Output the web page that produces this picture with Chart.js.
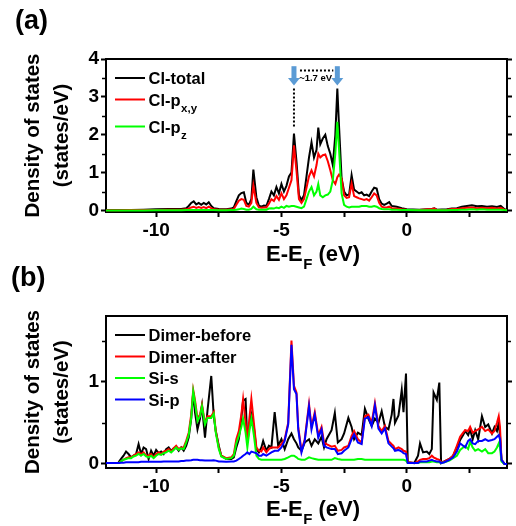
<!DOCTYPE html>
<html><head><meta charset="utf-8">
<script src="https://cdn.jsdelivr.net/npm/chart.js@4.4.1/dist/chart.umd.min.js"></script>
<style>
html,body{margin:0;padding:0;background:#fff;}
#wrap{position:relative;width:516px;height:526px;overflow:hidden;}
canvas{position:absolute;left:0;}
#chartA{top:0;}
#chartB{top:263px;}
</style></head><body>
<div id="wrap">
<canvas id="chartA" width="516" height="280"></canvas>
<canvas id="chartB" width="516" height="263"></canvas>
</div>
<script>
// ---------- data: panel (a) ----------
const energyA = [-12,-11.5,-11,-10.5,-10,-9.5,-9,-8.8,-8.7,-8.6,-8.5,-8.4,-8.3,-8.2,-8.1,-8,-7.9,-7.8,-7.7,-7.5,-7.2,-7,-6.9,-6.8,-6.7,-6.6,-6.5,-6.4,-6.3,-6.2,-6.12,-6,-5.9,-5.8,-5.7,-5.6,-5.5,-5.4,-5.3,-5.2,-5.1,-5,-4.9,-4.8,-4.7,-4.6,-4.5,-4.4,-4.3,-4.2,-4.1,-4,-3.9,-3.8,-3.7,-3.6,-3.53,-3.45,-3.35,-3.25,-3.15,-3.05,-2.95,-2.85,-2.77,-2.7,-2.6,-2.5,-2.4,-2.3,-2.2,-2.1,-2,-1.9,-1.8,-1.7,-1.6,-1.5,-1.4,-1.3,-1.2,-1.1,-1,-0.9,-0.8,-0.7,-0.6,-0.4,-0.2,0,0.5,1,1.1,1.2,1.6,1.8,2,2.2,2.4,2.6,2.8,3,3.2,3.4,3.6,3.75,3.9,4];
const clTotal = [0.01,0.01,0.015,0.02,0.03,0.04,0.04,0.06,0.12,0.2,0.24,0.16,0.2,0.15,0.2,0.16,0.22,0.12,0.06,0.04,0.03,0.05,0.08,0.25,0.4,0.46,0.48,0.2,0.15,0.3,1.08,0.35,0.13,0.1,0.13,0.12,0.3,0.5,0.4,0.62,0.45,0.7,0.5,0.65,0.9,1.0,2.03,1.3,0.4,0.28,0.4,0.9,1.4,1.8,1.4,1.6,2.19,1.75,1.9,2.0,1.7,1.5,1.2,2.0,3.22,2.2,0.85,0.5,0.4,0.42,0.93,0.55,0.5,0.45,0.48,0.4,0.42,0.38,0.5,0.6,0.58,0.3,0.18,0.15,0.18,0.22,0.12,0.1,0.06,0.03,0.02,0.04,0.06,0.02,0.03,0.05,0.06,0.1,0.12,0.14,0.11,0.12,0.1,0.11,0.09,0.12,0.03,0.02];
const clPxy = [0.005,0.005,0.01,0.01,0.015,0.02,0.02,0.03,0.05,0.08,0.1,0.07,0.09,0.07,0.09,0.06,0.1,0.06,0.03,0.02,0.02,0.03,0.04,0.15,0.26,0.3,0.28,0.12,0.1,0.2,0.66,0.2,0.08,0.07,0.08,0.08,0.18,0.3,0.25,0.38,0.28,0.45,0.3,0.4,0.6,0.8,1.72,1.05,0.3,0.2,0.3,0.6,0.9,1.06,0.9,1.2,1.5,1.4,1.46,1.48,1.3,1.06,0.8,0.7,0.88,0.95,0.85,0.4,0.33,0.35,0.71,0.38,0.35,0.32,0.3,0.28,0.3,0.26,0.35,0.45,0.4,0.2,0.1,0.08,0.08,0.1,0.06,0.05,0.03,0.02,0.01,0.04,0.05,0.015,0.02,0.04,0.04,0.06,0.07,0.08,0.06,0.07,0.06,0.07,0.05,0.07,0.02,0.01];
const clPz = [0,0,0,0,0.005,0.005,0.005,0.01,0.01,0.01,0.01,0.01,0.01,0.01,0.01,0.01,0.01,0.01,0.01,0.005,0.005,0.01,0.01,0.02,0.03,0.05,0.04,0.02,0.02,0.04,0.1,0.03,0.02,0.02,0.02,0.02,0.05,0.06,0.05,0.08,0.06,0.1,0.07,0.12,0.1,0.12,0.12,0.1,0.08,0.06,0.1,0.3,0.5,0.62,0.4,0.5,0.7,0.4,0.35,0.4,0.42,0.5,0.8,1.5,2.34,1.6,0.45,0.15,0.1,0.08,0.1,0.1,0.1,0.1,0.12,0.12,0.12,0.1,0.1,0.12,0.1,0.06,0.04,0.03,0.03,0.03,0.02,0.02,0.01,0.01,0.005,0.005,0.005,0.005,0.005,0.01,0.01,0.02,0.02,0.03,0.02,0.03,0.02,0.02,0.02,0.02,0.01,0.005];

// ---------- data: panel (b) ----------
const energyB = [-12,-11.8,-11.6,-11.5,-11.4,-11.3,-11.2,-11.1,-11,-10.9,-10.8,-10.7,-10.6,-10.5,-10.4,-10.3,-10.2,-10.1,-10,-9.9,-9.8,-9.7,-9.6,-9.5,-9.4,-9.3,-9.2,-9.1,-9,-8.9,-8.8,-8.7,-8.6,-8.52,-8.45,-8.35,-8.25,-8.17,-8.05,-7.95,-7.8,-7.7,-7.62,-7.5,-7.4,-7.2,-7,-6.9,-6.8,-6.7,-6.6,-6.53,-6.43,-6.36,-6.28,-6.2,-6.1,-6,-5.9,-5.8,-5.73,-5.6,-5.5,-5.4,-5.27,-5.13,-5,-4.87,-4.73,-4.6,-4.5,-4.4,-4.33,-4.2,-4.07,-3.9,-3.8,-3.67,-3.53,-3.4,-3.3,-3.2,-3,-2.87,-2.75,-2.6,-2.5,-2.33,-2.2,-2.1,-1.95,-1.8,-1.67,-1.53,-1.4,-1.27,-1.13,-1,-0.87,-0.73,-0.6,-0.53,-0.47,-0.33,-0.2,-0.13,-0.03,0.04,0.3,0.45,0.53,0.65,0.8,0.9,1,1.07,1.2,1.3,1.37,1.5,1.7,1.85,2,2.13,2.25,2.33,2.45,2.53,2.63,2.73,2.85,3,3.13,3.25,3.4,3.5,3.6,3.67,3.72,3.78,3.9,4];
const dimerBefore = [null,null,null,0.02,0.06,0.1,0.15,0.12,0.08,0.1,0.12,0.24,0.12,0.2,0.18,0.06,0.16,0.1,0.17,0.13,0.15,0.12,0.18,0.2,0.16,0.19,0.2,0.16,0.2,0.16,0.22,0.32,0.55,0.87,0.63,0.42,0.55,0.71,0.32,0.65,1.07,0.58,0.4,0.22,0.1,0.06,0.06,0.08,0.2,0.3,0.55,0.77,0.79,0.26,0.45,0.6,0.45,0.18,0.14,0.2,0.28,0.16,0.22,0.2,0.63,0.22,0.3,0.18,0.3,0.37,0.3,0.25,0.2,0.16,0.26,0.3,0.22,0.3,0.25,0.33,0.2,0.3,0.41,0.62,0.26,0.3,0.37,0.56,0.45,0.3,0.38,0.35,0.67,0.55,0.46,0.55,0.5,0.64,0.45,0.42,0.6,0.79,0.5,0.59,0.9,0.63,1.1,0.02,0.01,0.1,0.25,0.14,0.15,0.12,0.18,0.87,0.78,0.99,0.01,0.03,0.06,0.1,0.2,0.29,0.35,0.4,0.35,0.42,0.3,0.41,0.3,0.58,0.45,0.48,0.37,0.45,0.4,0.5,0.35,0.05,0,0];
const dimerAfter = [null,null,null,0.01,0.03,0.05,0.07,0.08,0.08,0.1,0.12,0.14,0.12,0.14,0.1,0.1,0.12,0.08,0.12,0.14,0.12,0.15,0.16,0.18,0.15,0.19,0.22,0.18,0.2,0.2,0.28,0.38,0.6,0.9,0.78,0.55,0.6,0.72,0.5,0.58,0.58,0.63,0.4,0.2,0.1,0.07,0.08,0.12,0.3,0.4,0.6,0.79,0.5,0.28,0.55,0.79,0.5,0.2,0.16,0.15,0.2,0.14,0.18,0.2,0.2,0.2,0.24,0.3,0.5,1.5,0.95,0.87,0.45,0.16,0.3,0.73,0.45,0.63,0.35,0.45,0.26,0.24,0.21,0.22,0.16,0.17,0.2,0.22,0.34,0.4,0.3,0.26,0.58,0.6,0.5,0.74,0.46,0.4,0.46,0.28,0.24,0.22,0.18,0.2,0.18,0.16,0.15,0.02,0.01,0.03,0.05,0.06,0.06,0.07,0.1,0.08,0.06,0.05,0.02,0.03,0.06,0.1,0.22,0.33,0.38,0.41,0.4,0.45,0.38,0.4,0.42,0.45,0.4,0.42,0.37,0.4,0.5,0.58,0.45,0.05,0,0];
const siS = [null,null,null,0.01,0.03,0.05,0.06,0.07,0.07,0.09,0.1,0.12,0.1,0.12,0.09,0.08,0.1,0.07,0.1,0.12,0.11,0.13,0.14,0.16,0.14,0.17,0.2,0.17,0.19,0.18,0.26,0.35,0.56,0.88,0.75,0.52,0.58,0.7,0.48,0.56,0.56,0.61,0.38,0.18,0.09,0.06,0.07,0.1,0.25,0.34,0.45,0.55,0.38,0.2,0.4,0.55,0.35,0.1,0.06,0.05,0.05,0.05,0.05,0.05,0.05,0.05,0.05,0.06,0.08,0.1,0.1,0.08,0.06,0.05,0.05,0.08,0.07,0.06,0.05,0.05,0.05,0.05,0.05,0.07,0.06,0.05,0.05,0.05,0.05,0.05,0.06,0.06,0.05,0.05,0.05,0.05,0.05,0.05,0.05,0.05,0.05,0.05,0.05,0.05,0.05,0.05,0.04,0.01,0.01,0.01,0.02,0.02,0.02,0.02,0.03,0.03,0.02,0.02,0.01,0.02,0.04,0.07,0.1,0.17,0.2,0.22,0.18,0.27,0.2,0.16,0.18,0.15,0.18,0.13,0.13,0.15,0.2,0.25,0.2,0.03,0,0];
const siP = [0.01,0.01,0.01,0.01,0.015,0.015,0.02,0.02,0.02,0.02,0.02,0.02,0.025,0.025,0.025,0.025,0.025,0.025,0.025,0.025,0.025,0.03,0.03,0.03,0.03,0.03,0.03,0.03,0.035,0.035,0.04,0.04,0.045,0.05,0.05,0.05,0.045,0.045,0.04,0.04,0.04,0.045,0.04,0.03,0.03,0.025,0.03,0.03,0.04,0.06,0.08,0.1,0.12,0.14,0.12,0.15,0.14,0.13,0.1,0.1,0.12,0.1,0.12,0.14,0.16,0.16,0.2,0.28,0.48,1.45,0.91,0.85,0.42,0.14,0.28,0.7,0.42,0.6,0.32,0.42,0.22,0.2,0.18,0.18,0.12,0.13,0.16,0.2,0.3,0.36,0.26,0.24,0.55,0.57,0.46,0.71,0.43,0.37,0.43,0.25,0.21,0.19,0.16,0.17,0.15,0.13,0.12,0.01,0.01,0.01,0.03,0.03,0.03,0.04,0.05,0.04,0.03,0.03,0.01,0.02,0.05,0.08,0.15,0.25,0.22,0.2,0.28,0.3,0.25,0.24,0.28,0.28,0.3,0.28,0.29,0.3,0.33,0.35,0.3,0.05,0,0];

// ---------- ticks / labels ----------
const xTicks = [-10,-7.5,-5,-2.5,0,2.5];
const xTickLabels = ['-10','','-5','','0',''];
const yTicksA = [0,1,2,3,4];
const yMinorA = [0.5,1.5,2.5,3.5];
const yTicksB = [0,1];
const yMinorB = [0.5,1.5];
const legendA = [['Cl-total',''],['Cl-p','x,y'],['Cl-p','z']];
const legendB = [['Dimer-before',''],['Dimer-after',''],['Si-s',''],['Si-p','']];
const arrowE = [-4.5,-2.77];
const gapText = '~1.7 eV';

const FONT = "'Liberation Sans', Arial, Helvetica, sans-serif";
const C = {k:'#000000', r:'#ff0000', g:'#00ff00', b:'#0000ff'};

function pts(xs, ys){ return xs.map((e,i)=>({x:e, y:ys[i]})); }
function ds(label, xs, ys, color, order){
  return {label, data: pts(xs, ys), borderColor: color, backgroundColor: color,
    borderWidth: 2, pointRadius: 0, tension: 0, fill: false, spanGaps: false, order};
}

function scalesFor(yMin, yMax, yTicks, xHeight){
  const tickFont = {family: FONT, size: 19, weight: 'bold'};
  const grid = {drawOnChartArea:false, drawTicks:true, tickLength:5, tickWidth:2, tickColor:'#000'};
  const border = {display:true, width:2, color:'#000'};
  return {
    x: {type:'linear', min:-12, max:4,
      afterBuildTicks: s => { s.ticks = xTicks.map(v=>({value:v})); },
      afterFit: s => { s.height = xHeight; },
      ticks: {callback: v => { const i = xTicks.indexOf(v); return i>=0 ? xTickLabels[i] : ''; },
        font: tickFont, color:'#000', padding:2, maxRotation:0, autoSkip:false},
      grid, border},
    y: {type:'linear', position:'left', min:yMin, max:yMax,
      afterBuildTicks: s => { s.ticks = yTicks.map(v=>({value:v})); },
      afterFit: s => { s.width = 106; },
      ticks: {font: tickFont, color:'#000', padding:2, callback: v => String(v)},
      title: {display:true, text:['Density of states','(states/eV)'], color:'#000',
        font:{family:FONT, size:20.5, weight:'bold', lineHeight:1.42}, padding:{top:19, bottom:0}},
      grid, border},
    y2: {type:'linear', position:'right', min:yMin, max:yMax,
      afterBuildTicks: s => { s.ticks = yTicks.map(v=>({value:v})); },
      afterFit: s => { s.width = 9; },
      ticks: {display:false},
      grid, border}
  };
}

function decor(opts){
  return {
    id: 'decor',
    afterDraw(chart){
      const {ctx, chartArea:a, scales:{x, y}} = chart;
      ctx.save();
      // top frame line
      ctx.strokeStyle = '#000'; ctx.lineWidth = 2;
      ctx.beginPath(); ctx.moveTo(a.left-1, a.top); ctx.lineTo(a.right+1, a.top); ctx.stroke();
      // minor ticks
      ctx.lineWidth = 1.5;
      opts.minor.forEach(v => {
        const py = Math.round(y.getPixelForValue(v)) + 0.5;
        ctx.beginPath(); ctx.moveTo(a.left-1, py); ctx.lineTo(a.left-4, py); ctx.stroke();
        ctx.beginPath(); ctx.moveTo(a.right+1, py); ctx.lineTo(a.right+4, py); ctx.stroke();
      });
      // legend
      const cols = opts.colors;
      opts.legend.forEach((item, i) => {
        const ly = opts.legendY[i];
        ctx.strokeStyle = cols[i]; ctx.lineWidth = 2;
        ctx.beginPath(); ctx.moveTo(115, ly); ctx.lineTo(145, ly); ctx.stroke();
        ctx.fillStyle = '#000'; ctx.textAlign = 'left'; ctx.textBaseline = 'alphabetic';
        ctx.font = "bold 16.5px " + FONT;
        const base = ly + 6;
        ctx.fillText(item[0], 148.5, base);
        if (item[1]) {
          const w = ctx.measureText(item[0]).width;
          ctx.font = "bold 11.5px " + FONT;
          ctx.fillText(item[1], 148.5 + w + 0.5, base + 6);
        }
      });
      // x-axis title with subscript
      ctx.fillStyle = '#000'; ctx.textAlign = 'left'; ctx.textBaseline = 'alphabetic';
      ctx.font = "bold 22px " + FONT;
      let tx = 266;
      ctx.fillText('E-E', tx, opts.xTitleY);
      tx += ctx.measureText('E-E').width + 0.5;
      ctx.font = "bold 15px " + FONT;
      ctx.fillText('F', tx, opts.xTitleY + 8);
      tx += ctx.measureText('F').width;
      ctx.font = "bold 22px " + FONT;
      ctx.fillText(' (eV)', tx, opts.xTitleY);
      // panel label
      ctx.font = "bold 27px " + FONT;
      ctx.fillText(opts.panel, opts.panelX, opts.panelY);
      if (opts.arrows) opts.arrows(ctx, x, y);
      ctx.restore();
    }
  };
}

function drawArrows(ctx, x, y){
  const blue = '#5b9bd5';
  const top = y.getPixelForValue(3.81), neck = y.getPixelForValue(3.5), tip = y.getPixelForValue(3.3);
  arrowE.forEach(e => {
    const px = x.getPixelForValue(e);
    ctx.fillStyle = blue;
    ctx.fillRect(px-2.5, top, 5, neck-top+1);
    ctx.beginPath(); ctx.moveTo(px-6, neck); ctx.lineTo(px+6, neck); ctx.lineTo(px, tip); ctx.closePath(); ctx.fill();
  });
  ctx.strokeStyle = '#000'; ctx.lineWidth = 2; ctx.setLineDash([2,2]);
  const px1 = x.getPixelForValue(arrowE[0]), px2 = x.getPixelForValue(arrowE[1]);
  ctx.beginPath(); ctx.moveTo(px1, tip+3); ctx.lineTo(px1, y.getPixelForValue(2.18)); ctx.stroke();
  const hy = Math.round(y.getPixelForValue(3.72)) + 0.5;
  ctx.beginPath(); ctx.moveTo(px1+6, hy); ctx.lineTo(px2-4, hy); ctx.stroke();
  ctx.setLineDash([]);
  ctx.fillStyle = '#000'; ctx.font = "bold 9.5px " + FONT; ctx.textAlign = 'center';
  ctx.fillText(gapText, (px1+px2)/2, y.getPixelForValue(3.42));
}

new Chart(document.getElementById('chartA'), {
  type: 'line',
  data: {datasets: [
    ds('Cl-total', energyA, clTotal, C.k, 3),
    ds('Cl-pxy', energyA, clPxy, C.r, 2),
    ds('Cl-pz', energyA, clPz, C.g, 1)
  ]},
  options: {
    responsive:false, animation:false, events:[],
    layout:{padding:{top:59, left:0, right:0, bottom:0}},
    plugins:{legend:{display:false}, tooltip:{enabled:false}},
    scales: scalesFor(-0.04, 4, yTicksA, 68)
  },
  plugins: [decor({minor:yMinorA, legend:legendA, legendY:[78,99.5,126.5], colors:[C.k,C.r,C.g],
    xTitleY:260.5, panel:'(a)', panelX:15, panelY:29, arrows:drawArrows})]
});

new Chart(document.getElementById('chartB'), {
  type: 'line',
  data: {datasets: [
    ds('Dimer-before', energyB, dimerBefore, C.k, 4),
    ds('Dimer-after', energyB, dimerAfter, C.r, 3),
    ds('Si-s', energyB, siS, C.g, 2),
    ds('Si-p', energyB, siP, C.b, 1)
  ]},
  options: {
    responsive:false, animation:false, events:[],
    layout:{padding:{top:53, left:0, right:0, bottom:0}},
    plugins:{legend:{display:false}, tooltip:{enabled:false}},
    scales: scalesFor(-0.05, 1.8, yTicksB, 58)
  },
  plugins: [decor({minor:yMinorB, legend:legendB, legendY:[72,93.5,115,136.5], colors:[C.k,C.r,C.g,C.b],
    xTitleY:253, panel:'(b)', panelX:11, panelY:23})]
});
</script>
</body></html>
